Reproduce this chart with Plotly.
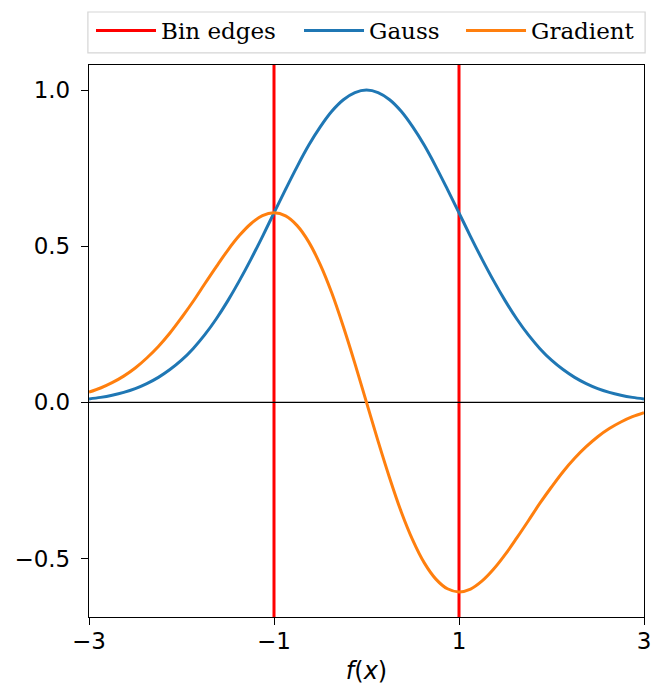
import plotly.graph_objects as go

# values, step 0.125 on x
x = [-3.0, -2.875, -2.75, -2.625, -2.5, -2.375, -2.25, -2.125, -2.0, -1.875, -1.75, -1.625,
     -1.5, -1.375, -1.25, -1.125, -1.0, -0.875, -0.75, -0.625, -0.5, -0.375, -0.25, -0.125,
     0.0, 0.125, 0.25, 0.375, 0.5, 0.625, 0.75, 0.875, 1.0, 1.125, 1.25, 1.375,
     1.5, 1.625, 1.75, 1.875, 2.0, 2.125, 2.25, 2.375, 2.5, 2.625, 2.75, 2.875, 3.0]
gauss = [0.011, 0.016, 0.023, 0.032, 0.044, 0.060, 0.080, 0.105, 0.135, 0.172, 0.216, 0.267,
         0.325, 0.389, 0.458, 0.531, 0.607, 0.682, 0.755, 0.823, 0.882, 0.932, 0.969, 0.992,
         1.0, 0.992, 0.969, 0.932, 0.882, 0.823, 0.755, 0.682, 0.607, 0.531, 0.458, 0.389,
         0.325, 0.267, 0.216, 0.172, 0.135, 0.105, 0.080, 0.060, 0.044, 0.032, 0.023, 0.016, 0.011]
gradient = [0.033, 0.046, 0.063, 0.084, 0.110, 0.142, 0.179, 0.222, 0.271, 0.323, 0.379, 0.434,
            0.487, 0.534, 0.572, 0.598, 0.607, 0.597, 0.566, 0.514, 0.441, 0.350, 0.242, 0.124,
            0.0, -0.124, -0.242, -0.350, -0.441, -0.514, -0.566, -0.597, -0.607, -0.598, -0.572, -0.534,
            -0.487, -0.434, -0.379, -0.323, -0.271, -0.222, -0.179, -0.142, -0.110, -0.084, -0.063, -0.046, -0.033]
bin_edges = [-1, 1]
x_ticks = [-3, -1, 1, 3]
y_ticks = [-0.5, 0.0, 0.5, 1.0]

# matplotlib-like 5% margins on y
lo = min(gauss + gradient)
hi = max(gauss + gradient)
pad = 0.05 * (hi - lo)

fig = go.Figure()

for i, e in enumerate(bin_edges):
    fig.add_shape(type='line', x0=e, x1=e, y0=0, y1=1, xref='x', yref='y domain',
                  line=dict(color='#ff0000', width=3), layer='below',
                  name='Bin edges', showlegend=(i == 0), legend='legend')

# axhline at zero
fig.add_shape(type='line', x0=0, x1=1, y0=0, y1=0, xref='x domain', yref='y',
              line=dict(color='black', width=1.3), layer='below')

# legend frame spanning the axes width
fig.add_shape(type='rect', xref='paper', yref='paper', x0=-0.002, x1=1.002, y0=1.022, y1=1.096,
              line=dict(color='#d5d5d5', width=1.2), fillcolor='white', layer='below')

fig.add_trace(go.Scatter(x=x, y=gauss, mode='lines', name='Gauss', legend='legend2',
                         line=dict(color='#1f77b4', width=3, shape='spline')))
fig.add_trace(go.Scatter(x=x, y=gradient, mode='lines', name='Gradient', legend='legend3',
                         line=dict(color='#ff7f0e', width=3, shape='spline')))

axis = dict(showgrid=False, zeroline=False, showline=True, linecolor='black', linewidth=1.3,
            mirror=True, ticks='outside', ticklen=7, tickwidth=1.3, tickcolor='black',
            automargin=False, tickfont=dict(family='DejaVu Sans', size=23, color='black'))

fig.update_xaxes(range=[x[0], x[-1]], tickvals=x_ticks, ticklabelstandoff=-4,
                 title=dict(text='<i>f</i>(<i>x</i>)', standoff=9,
                            font=dict(family='DejaVu Sans', size=24, color='black')),
                 **axis)
fig.update_yaxes(range=[lo - pad, hi + pad], tickvals=y_ticks, tickformat='.1f',
                 ticklabelstandoff=6, **axis)

# one legend per entry so the entries can be spread like matplotlib's expanded legend
leg = dict(orientation='h', yanchor='top', y=1.1014, xanchor='left',
           bgcolor='rgba(0,0,0,0)', borderwidth=0, itemwidth=60,
           font=dict(family='DejaVu Serif', size=23, color='black'))

# page body adds an 8px offset, so the figure is a bit smaller than the window
fig.update_layout(
    width=649, height=684,
    margin=dict(l=81, r=13, t=57, b=75, autoexpand=False),
    paper_bgcolor='white', plot_bgcolor='white',
    legend=dict(leg, x=0.0036),
    legend2=dict(leg, x=0.3784),
    legend3=dict(leg, x=0.6703),
)

fig.write_html('out.html')
